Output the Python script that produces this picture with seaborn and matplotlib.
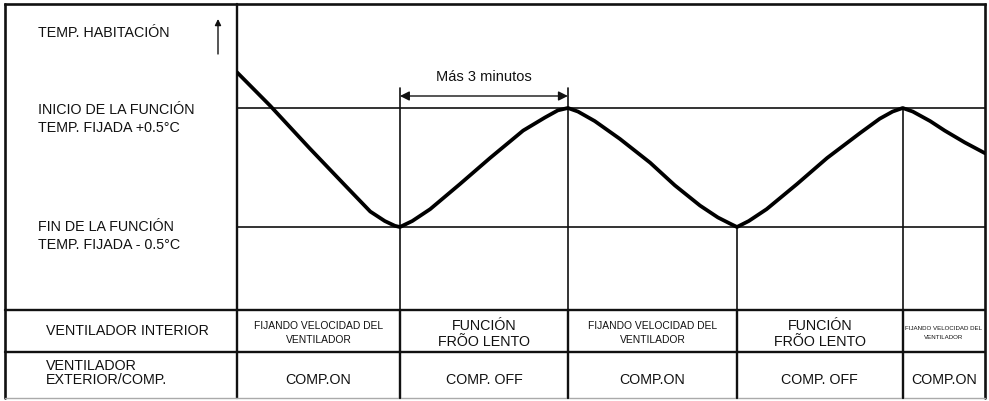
import matplotlib
matplotlib.use("Agg")
import matplotlib.pyplot as plt
import matplotlib.transforms as mtransforms
import seaborn as sns
import pandas as pd

sns.set_theme(style="white")
plt.rcParams["font.family"] = ["Liberation Sans", "DejaVu Sans"]

# Room temperature over time (minutes, offset from set temperature in °C)
time_min = [0.00, 0.59, 1.30, 1.93, 2.38, 2.64, 2.82, 2.91,
            3.13, 3.45, 3.98, 4.52, 5.11, 5.50, 5.73, 5.91,
            6.09, 6.39, 6.84, 7.38, 7.82, 8.27, 8.59, 8.80, 8.93,
            9.14, 9.46, 10.00, 10.54, 11.13, 11.48, 11.71, 11.89,
            12.07, 12.38, 12.64, 13.00, 13.36]
temp_offset = [0.80, 0.52, 0.16, -0.15, -0.37, -0.45, -0.49, -0.50,
               -0.45, -0.35, -0.14, 0.08, 0.31, 0.42, 0.48, 0.50,
               0.47, 0.39, 0.24, 0.04, -0.15, -0.32, -0.42, -0.47, -0.50,
               -0.45, -0.35, -0.14, 0.08, 0.29, 0.41, 0.47, 0.50,
               0.47, 0.39, 0.31, 0.21, 0.12]

upper_limit = 0.5
lower_limit = -0.5

# Phase changes (minutes) and the temperature at which each one happens
phase_times = [2.91, 5.91, 8.93, 11.89]
phase_temps = [-0.50, 0.50, -0.50, 0.50]
t_end = 13.36

indoor_fan = ["FIJANDO VELOCIDAD DEL\nVENTILADOR", "FUNCIÓN\nFRÕO LENTO",
              "FIJANDO VELOCIDAD DEL\nVENTILADOR", "FUNCIÓN\nFRÕO LENTO",
              "FIJANDO VELOCIDAD DEL\nVENTILADOR"]
outdoor_comp = ["COMP.ON", "COMP. OFF", "COMP.ON", "COMP. OFF", "COMP.ON"]

W, H = 989, 401
fig = plt.figure(figsize=(W / 100, H / 100), dpi=100)
fig.patch.set_facecolor("white")

# Full-figure layer in pixel units for the table frame and labels
frame = fig.add_axes([0, 0, 1, 1])
frame.set_xlim(0, W)
frame.set_ylim(H, 0)
frame.axis("off")

x_left, x_div, x_right = 5, 237, 985
y_top, y_chart, y_row, y_bot = 4, 310, 352, 398

# Chart area
ax = fig.add_axes([x_div / W, 1 - y_chart / H, (x_right - x_div) / W, (y_chart - y_top) / H])
ax.set_xlim(0, t_end)
px_per_deg = 119.0
ax.set_ylim(upper_limit - (y_chart - 108) / px_per_deg, upper_limit + (108 - y_top) / px_per_deg)
ax.axis("off")
ax.patch.set_alpha(0)

lw_thin = 1.2
lw_frame = 1.9
ink = "#111111"

# Outer frame and table grid
frame.plot([x_left, x_right], [y_top, y_top], color=ink, lw=lw_frame, solid_capstyle="projecting")
frame.plot([x_left, x_left], [y_top, y_bot], color=ink, lw=lw_frame)
frame.plot([x_right, x_right], [y_top, y_bot], color=ink, lw=lw_frame)
frame.plot([x_div, x_div], [y_top, y_bot], color=ink, lw=lw_frame * 0.9)
frame.plot([x_left, x_right], [y_chart, y_chart], color=ink, lw=lw_frame * 0.9)
frame.plot([x_left, x_right], [y_row, y_row], color=ink, lw=lw_frame * 0.9)
frame.plot([x_left, x_right], [y_bot, y_bot], color="#aaaaaa", lw=1.0)

# Limit lines
ax.axhline(upper_limit, color=ink, lw=lw_thin)
ax.axhline(lower_limit, color=ink, lw=lw_thin)

# Phase dividers running from the curve down through the table
ymin_ax = ax.get_ylim()[0]
arrow_y = upper_limit + 12 / px_per_deg
tick_top = upper_limit + 20 / px_per_deg
blend = mtransforms.blended_transform_factory(ax.transData, frame.transData)
for i, (tb, vb) in enumerate(zip(phase_times, phase_temps)):
    top = tick_top if i < 2 else vb
    ax.plot([tb, tb], [ymin_ax, top], color=ink, lw=lw_thin, clip_on=False)
    frame.plot([tb, tb], [y_chart, y_bot], color=ink, lw=lw_frame * 0.9, transform=blend)

# Temperature curve
df = pd.DataFrame({"t": time_min, "temp": temp_offset})
sns.lineplot(data=df, x="t", y="temp", ax=ax, color="black", lw=2.7,
             sort=False, estimator=None, legend=False,
             solid_joinstyle="round", solid_capstyle="round")

# Minimum duration annotation
ax.annotate("", xy=(phase_times[0], arrow_y), xytext=(phase_times[1], arrow_y),
            arrowprops=dict(arrowstyle="<|-|>", color=ink, lw=1.0,
                            mutation_scale=14, shrinkA=0, shrinkB=0))
ax.text((phase_times[0] + phase_times[1]) / 2, upper_limit + 31 / px_per_deg,
        "Más 3 minutos", ha="center", va="center", fontsize=10.5, color=ink)

# Left column labels
fs = 10.3
frame.text(38, 33, "TEMP. HABITACIÓN", ha="left", va="center", fontsize=fs, color=ink)
frame.annotate("", xy=(218, 19), xytext=(218, 54),
               arrowprops=dict(arrowstyle="-|>", color=ink, lw=1.0,
                               mutation_scale=9, shrinkA=0, shrinkB=0))
frame.text(38, 119, "INICIO DE LA FUNCIÓN\nTEMP. FIJADA +0.5°C", ha="left", va="center",
           fontsize=fs, color=ink, linespacing=1.35)
frame.text(38, 236, "FIN DE LA FUNCIÓN\nTEMP. FIJADA - 0.5°C", ha="left", va="center",
           fontsize=fs, color=ink, linespacing=1.35)
frame.text(46, 331, "VENTILADOR INTERIOR", ha="left", va="center", fontsize=fs, color=ink)
frame.text(46, 373, "VENTILADOR\nEXTERIOR/COMP.", ha="left", va="center", fontsize=fs,
           color=ink, linespacing=0.95)

# Table cells
bounds = [0.0] + phase_times + [t_end]
for i in range(5):
    xc = (bounds[i] + bounds[i + 1]) / 2
    label = indoor_fan[i]
    if label.startswith("FIJANDO"):
        last = i == 4
        frame.text(xc, 333, label, ha="center", va="center",
                   fontsize=4.4 if last else 7.4, color=ink, transform=blend,
                   linespacing=2.1 if last else 1.55)
    else:
        frame.text(xc, 334, label, ha="center", va="center", fontsize=fs, color=ink,
                   transform=blend, linespacing=1.1)
    frame.text(xc, 380, outdoor_comp[i], ha="center", va="center", fontsize=fs,
               color=ink, transform=blend)

fig.savefig("out.png", dpi=100, facecolor="white")
